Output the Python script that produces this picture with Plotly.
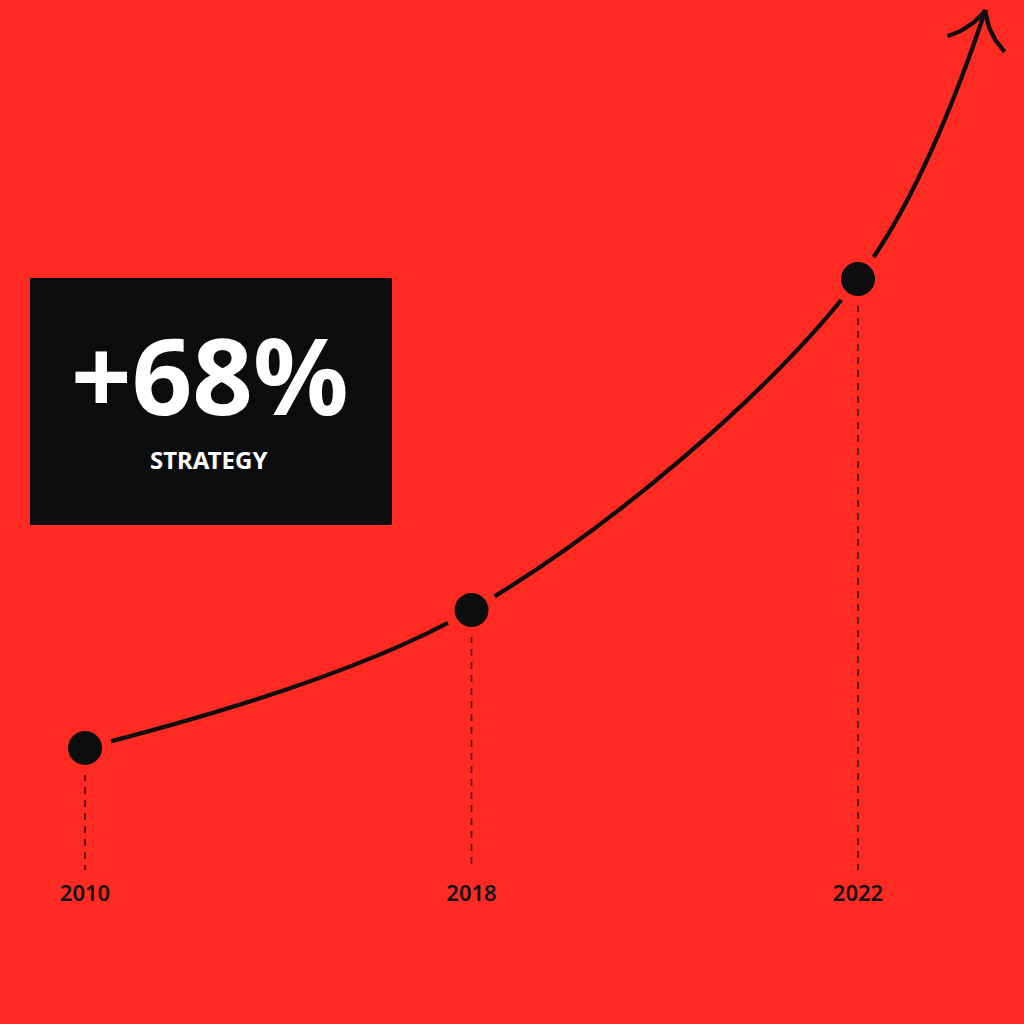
import numpy as np
import plotly.graph_objects as go

# ---- data ----
years = ["2010", "2018", "2022"]
positions = [0, 1, 2]
values = [100, 120, 168]          # index, 2010 = 100  (+68% by 2022)
arrow_position = 2.33             # projected end of the trend arrow
arrow_value = 207
headline = "+68%"
subtitle = "STRATEGY"

# ---- style ----
BG = "#FF2A21"
INK = "#0d0d0d"
W = H = 1024
x_range = [-0.22, 2.4295]
y_range = [59.98, 208.45]
baseline = 82.3
label_value = 78.6

def to_px(u, v):
    px = (u - x_range[0]) / (x_range[1] - x_range[0]) * W
    py = (y_range[1] - v) / (y_range[1] - y_range[0]) * H
    return np.array([px, py])

def to_data(p):
    u = p[0] / W * (x_range[1] - x_range[0]) + x_range[0]
    v = y_range[1] - p[1] / H * (y_range[1] - y_range[0])
    return u, v

fig = go.Figure()

# trend curve
fig.add_trace(go.Scatter(
    x=positions + [arrow_position], y=values + [arrow_value],
    mode="lines", line=dict(color=INK, width=4.2, shape="spline", smoothing=1.0),
    hoverinfo="skip", showlegend=False))

# arrowhead (open, curved wings) computed from the tip
tip = to_px(arrow_position, arrow_value)
back = np.array([-0.30, 0.954]); back = back / np.linalg.norm(back)
def rot(vec, deg):
    a = np.radians(deg)
    return np.array([vec[0]*np.cos(a) - vec[1]*np.sin(a), vec[0]*np.sin(a) + vec[1]*np.cos(a)])
L = 46
for ang in (38, -42):
    end = tip + L * rot(back, ang)
    ctrl = tip + 0.5 * L * rot(back, ang * 0.5)
    t = np.linspace(0, 1, 20)[:, None]
    pts = (1 - t)**2 * end + 2 * (1 - t) * t * ctrl + t**2 * tip
    us, vs = zip(*[to_data(p) for p in pts])
    fig.add_trace(go.Scatter(x=us, y=vs, mode="lines",
                             line=dict(color=INK, width=4.2),
                             hoverinfo="skip", showlegend=False))

# dashed drop lines
for p, v in zip(positions, values):
    fig.add_trace(go.Scatter(x=[p, p], y=[v, baseline], mode="lines",
                             line=dict(color="rgba(20,20,20,0.85)", width=1.6, dash="7px,6px"),
                             hoverinfo="skip", showlegend=False))

# dots with background-coloured halo
fig.add_trace(go.Scatter(
    x=positions, y=values, mode="markers",
    marker=dict(size=44, color=INK, line=dict(color=BG, width=10)),
    hoverinfo="skip", showlegend=False))

# year labels
fig.add_trace(go.Scatter(
    x=positions, y=[label_value] * len(positions), mode="text", text=years,
    textfont=dict(family="Noto Sans", size=22, color="#111111", weight=600),
    hoverinfo="skip", showlegend=False))

# headline box
fig.add_shape(type="rect", xref="paper", yref="paper",
              x0=30/W, x1=392/W, y0=1-525/H, y1=1-278/H,
              fillcolor="#0b0c0d", line=dict(width=0), layer="above")
fig.add_annotation(xref="paper", yref="paper", x=210/W, y=1-374/H,
                   text=headline, showarrow=False, xanchor="center", yanchor="middle",
                   font=dict(family="Noto Sans", size=106, color="white", weight=700))
fig.add_annotation(xref="paper", yref="paper", x=209/W, y=1-459/H,
                   text=subtitle, showarrow=False, xanchor="center", yanchor="middle",
                   font=dict(family="Noto Sans", size=24, color="white", weight=700))

fig.update_layout(
    width=W, height=H, margin=dict(l=0, r=0, t=0, b=0),
    paper_bgcolor=BG, plot_bgcolor=BG,
    xaxis=dict(range=x_range, visible=False, fixedrange=True),
    yaxis=dict(range=y_range, visible=False, fixedrange=True),
    showlegend=False)

fig.write_html("out.html", config={"displayModeBar": False},
               post_script="document.body.style.margin='0';document.body.style.background='%s';" % BG)
